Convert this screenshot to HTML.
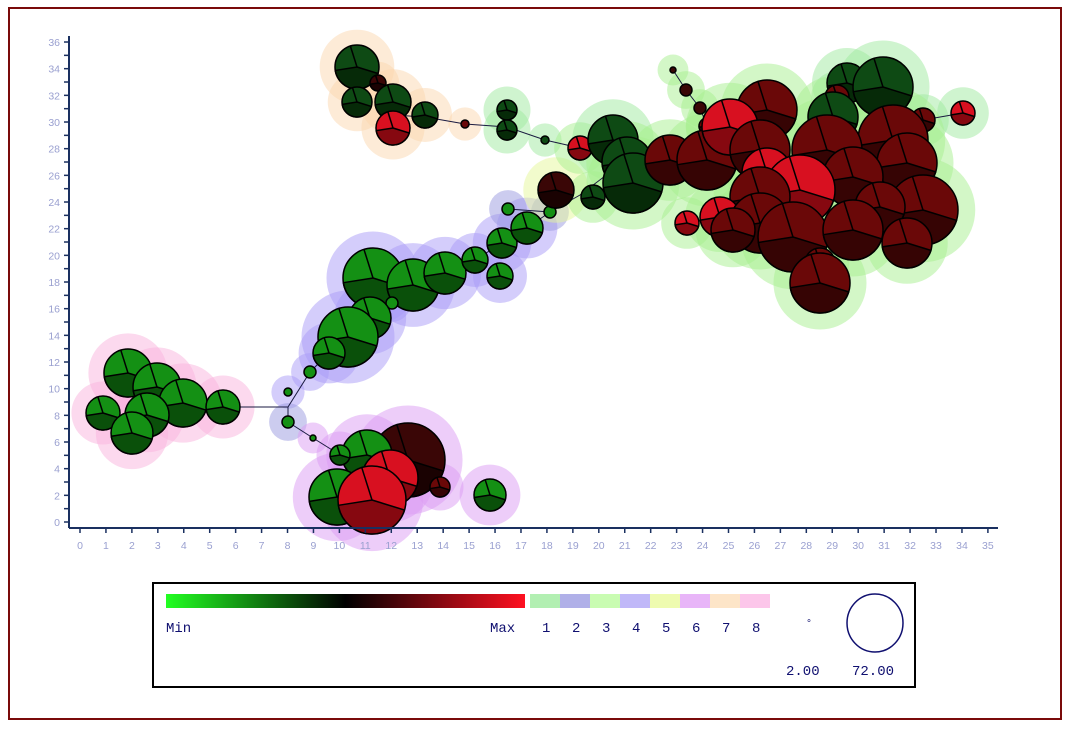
<!DOCTYPE html>
<html><head><meta charset="utf-8"><style>
body{margin:0;background:#fff;width:1072px;height:732px;overflow:hidden;font-family:"Liberation Sans",sans-serif}
</style></head><body>
<svg id="s" width="1072" height="732" xmlns="http://www.w3.org/2000/svg">
<rect x="9" y="8" width="1052" height="711" fill="#fff" stroke="#7a0a0a" stroke-width="2"/>
<g id="halo"></g>
<g id="edges" stroke="#1a1a40" stroke-width="1" fill="none">
<polyline points="223,407 288,407 310,372 329,353 348,337 370,318 392,303 413,285 445,273 475,260 502,243 527,228 550,212 580,195 613,170"/>
<polyline points="288,407 288,422 313,438 337,453"/>
<polyline points="508,209 550,212"/>
<polyline points="393,115 425,117 465,124 507,127 545,140 580,148 613,140"/>
<polyline points="673,70 686,90 700,108 707,126"/>
<polyline points="923,120 963,113"/>
</g>
<g id="nodes" stroke="#000" stroke-width="1.5"></g>
<g id="axes"></g>
<rect x="153" y="583" width="762" height="104" fill="#fff" stroke="#000" stroke-width="2"/>
<defs><linearGradient id="g" x1="0" x2="1"><stop offset="0" stop-color="#22ff22"/><stop offset="0.5" stop-color="#000"/><stop offset="1" stop-color="#ff1020"/></linearGradient></defs>
<rect x="166" y="594" width="359" height="14" fill="url(#g)"/>
<rect x="530" y="594" width="30" height="14" fill="#b2efb2"/>
<rect x="560" y="594" width="30" height="14" fill="#b0b0e8"/>
<rect x="590" y="594" width="30" height="14" fill="#c9fcb2"/>
<rect x="620" y="594" width="30" height="14" fill="#c0b8f8"/>
<rect x="650" y="594" width="30" height="14" fill="#eefbb0"/>
<rect x="680" y="594" width="30" height="14" fill="#e8b5f8"/>
<rect x="710" y="594" width="30" height="14" fill="#fde5c8"/>
<rect x="740" y="594" width="30" height="14" fill="#fcc6ea"/>
<g fill="#101070" font-size="14" font-family="Liberation Mono, monospace">
<text x="166" y="632">Min</text><text x="490" y="632">Max</text>
<text x="542" y="632">1</text><text x="572" y="632">2</text><text x="602" y="632">3</text><text x="632" y="632">4</text><text x="662" y="632">5</text><text x="692" y="632">6</text><text x="722" y="632">7</text><text x="752" y="632">8</text>
<text x="806" y="626" font-size="10">°</text>
<text x="786" y="675">2.00</text><text x="852" y="675">72.00</text>
</g>
<ellipse cx="875" cy="623" rx="28" ry="29" fill="none" stroke="#101070" stroke-width="1.5"/>
</svg>
<script>
const NS="http://www.w3.org/2000/svg";
function el(p,t,a){const e=document.createElementNS(NS,t);for(const k in a)e.setAttribute(k,a[k]);p.appendChild(e);return e;}
const H=document.getElementById('halo'),N=document.getElementById('nodes'),A=document.getElementById('axes');
const hc={1:'#a0eaa0',2:'#9a9ae0',3:'#a8f090',4:'#aa9cf7',5:'#e6f89a',6:'#dc9cf4',7:'#fbd8b0',8:'#fab4de'};
const pal={g:['#149014','#0a500a'],dg:['#0e4a14','#062a08'],dr:['#6a0808','#360404'],r:['#d81020','#860810'],k:['#3a0606','#1a0202']};
const nd=[
[128,373,24,'g',8],[157,387,24,'g',8],[183,403,24,'g',8],[103,413,17,'g',8],[147,415,22,'g',8],[132,433,21,'g',8],[223,407,17,'g',8],
[373,278,30,'g',4],[413,285,26,'g',4],[445,273,21,'g',4],[475,260,13,'g',4],[500,276,13,'g',4],[502,243,15,'g',4],[527,228,16,'g',4],
[508,209,6,'g',2],[550,212,6,'g',2],[392,303,6,'g',4],[370,318,21,'g',4],[348,337,30,'g',4],[329,353,16,'g',4],[310,372,6,'g',4],[288,392,4,'g',4],[288,422,6,'g',2],[313,438,3,'g',6],
[408,460,37,'k',6],[367,455,25,'g',6],[340,455,10,'g',6],[390,478,28,'r',6],[337,497,28,'g',6],[372,500,34,'r',6],[440,487,10,'dr',6],[490,495,16,'g',6],
[556,190,18,'k',5],
[357,67,22,'dg',7],[378,83,8,'k',7],[357,102,15,'dg',7],[393,102,18,'dg',7],[393,128,17,'r',7],[425,115,13,'dg',7],[465,124,4,'dr',7],
[507,110,10,'dg',1],[507,130,10,'dg',1],[545,140,4,'dg',1],[580,148,12,'r',3],
[673,70,3,'k',3],[686,90,6,'k',3],[700,108,6,'k',3],[707,126,8,'dr',3],
[613,140,25,'dg',1],[627,162,25,'dg',3],[633,183,30,'dg',3],[593,197,12,'dg',3],[670,160,25,'dr',3],[707,160,30,'dr',3],[767,110,30,'dr',3],[730,127,28,'r',3],[760,150,30,'dr',3],[767,173,25,'r',3],
[847,83,20,'dg',1],[883,87,30,'dg',1],[837,97,12,'dr',1],[833,117,25,'dg',3],[923,120,12,'dr',1],[963,113,12,'r',1],
[893,140,35,'dr',3],[827,150,35,'dr',3],[907,163,30,'dr',3],[853,177,30,'dr',3],[800,190,35,'r',3],[760,197,30,'dr',3],
[923,210,35,'dr',3],[880,207,25,'dr',3],[687,223,12,'r',3],[720,217,20,'r',3],[760,223,30,'dr',3],[733,230,22,'dr',3],[793,237,35,'dr',3],[853,230,30,'dr',3],[907,243,25,'dr',3],[820,263,15,'dr',3],[820,283,30,'dr',3]
];
nd.forEach(n=>el(H,'circle',{cx:n[0],cy:n[1],r:n[2]*1.15+12,fill:hc[n[4]],opacity:0.5}));
nd.forEach(n=>{const [x,y,r,t]=n,c=pal[t];
 el(N,'circle',{cx:x,cy:y,r:r,fill:c[0]});
 if(r>6){const a1=0.3,a2=Math.PI*0.95;
  el(N,'path',{d:`M${x},${y} L${x+r*Math.cos(a1)},${y+r*Math.sin(a1)} A${r},${r} 0 0 1 ${x+r*Math.cos(a2)},${y+r*Math.sin(a2)} Z`,fill:c[1]});
  el(N,'line',{x1:x,y1:y,x2:x-r*0.3,y2:y-r*0.95});
 }});
const ax='#1a3060';
el(A,'line',{x1:69,y1:36,x2:69,y2:528,stroke:ax,'stroke-width':2});
el(A,'line',{x1:69,y1:528,x2:998,y2:528,stroke:ax,'stroke-width':2});
for(let v=0;v<=36;v++){const y=522-v*13.333;el(A,'line',{x1:64,y1:y,x2:69,y2:y,stroke:ax,'stroke-width':1.5});
 if(v%2==0){const t=el(A,'text',{x:60,y:y+4,'font-size':10.5,fill:'#9aa0d0','text-anchor':'end'});t.textContent=v;}}
for(let v=0;v<=35;v++){const x=80+v*25.94;el(A,'line',{x1:x,y1:528,x2:x,y2:533,stroke:ax,'stroke-width':1.5});
 const t=el(A,'text',{x:x,y:549,'font-size':10.5,fill:'#9aa0d0','text-anchor':'middle'});t.textContent=v;}
</script>
</body></html>
